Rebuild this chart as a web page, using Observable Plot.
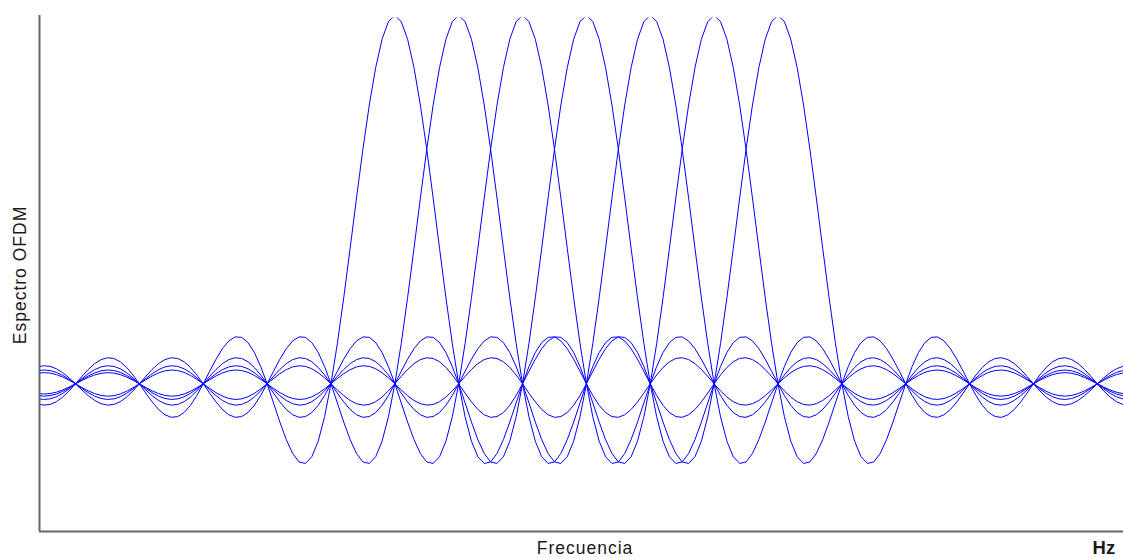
<!DOCTYPE html>
<html>
<head>
<meta charset="utf-8">
<script src="https://cdn.jsdelivr.net/npm/d3@7"></script>
<script src="https://cdn.jsdelivr.net/npm/@observablehq/plot@0.6"></script>
<style>
  html, body { margin: 0; padding: 0; background: #fff; }
  #chart { width: 1123px; height: 558px; overflow: hidden; }
  text.lbl { font-family: "Liberation Sans", Arial, sans-serif; font-size: 17.5px; letter-spacing: 1px; fill: #1a1a1a; }
</style>
</head>
<body>
<div id="chart"></div>
<script>
// Subcarrier centre frequencies (in units of subcarrier spacing Δf)
const subcarriers = ["1", "2", "3", "4", "5", "6", "7"];
const carrierFreq = [5, 6, 7, 8, 9, 10, 11];
// Frequency axis extent (units of Δf) and sampling step
const freqRange = [-0.564, 16.41];
const freqStep = 0.1;
// Amplitude axis extent (normalised spectrum); top of the axis line
const ampRange = [-0.401, 0.9932];
const ampAxisTop = 1.0;
// Axis titles
const xTitle = "Frecuencia";
const yTitle = "Espectro OFDM";
const unitLabel = "Hz";

// Spectrum of each subcarrier: sinc(f - fc)
const sinc = (u) => (Math.abs(u) < 1e-9 ? 1 : Math.sin(Math.PI * u) / (Math.PI * u));
const rows = [];
subcarriers.forEach((name, i) => {
  const fc = carrierFreq[i];
  const n = Math.round((freqRange[1] - freqRange[0]) / freqStep);
  const start = Math.floor(freqRange[0] / freqStep) * freqStep;
  for (let j = 0; j <= n + 2; j++) {
    const f = start + j * freqStep;
    rows.push({ carrier: name, f, a: sinc(f - fc) });
  }
});

const chart = Plot.plot({
  width: 1123,
  height: 558,
  marginLeft: 39,
  marginRight: 0,
  marginTop: 17.5,
  marginBottom: 27,
  x: { domain: freqRange, axis: null },
  y: { domain: ampRange, axis: null },
  style: { background: "#fff" },
  marks: [
    Plot.line(rows, { x: "f", y: "a", z: "carrier", stroke: "#0000ff", strokeWidth: 1, clip: true }),
    Plot.ruleX([freqRange[0]], { y1: ampRange[0], y2: ampAxisTop, stroke: "#666", strokeWidth: 2 }),
    Plot.ruleY([ampRange[0]], { stroke: "#666", strokeWidth: 2 })
  ]
});

const svg = d3.select(chart);
svg.append("text").attr("class", "lbl")
  .attr("x", 585).attr("y", 554).attr("text-anchor", "middle").text(xTitle);
svg.append("text").attr("class", "lbl")
  .attr("transform", "translate(26,275) rotate(-90)").attr("text-anchor", "middle").text(yTitle);
svg.append("text").attr("class", "lbl")
  .attr("x", 1104).attr("y", 554).attr("font-weight", "bold").style("font-size", "18.5px").style("letter-spacing", "0.3px").text(unitLabel);

document.getElementById("chart").appendChild(chart);
</script>
</body>
</html>
